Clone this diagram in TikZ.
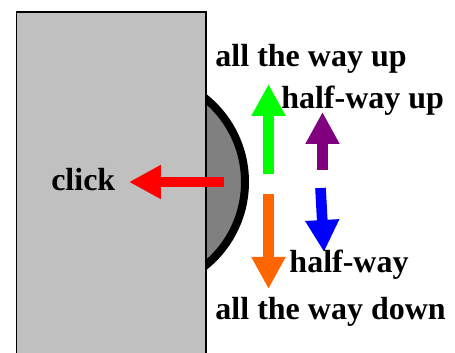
\documentclass[tikz,border=0pt]{standalone}
\usepackage{fontspec}
\setmainfont{Liberation Serif}
\usetikzlibrary{arrows.meta}
\definecolor{silverbox}{RGB}{192,192,192}
\definecolor{knobgray}{RGB}{128,128,128}
\definecolor{dragorange}{RGB}{255,102,0}
\definecolor{halfpurple}{RGB}{128,0,128}
\tikzset{
  lbl/.style={anchor=base west,inner sep=0pt,font=\fontsize{24}{24}\selectfont\bfseries},
  fat/.style={line width=8pt,-{Triangle[length=24pt,width=24pt]}}
}

\begin{document}
\begin{tikzpicture}[x=.75pt,y=-.75pt]
    \useasboundingbox (0,0) rectangle (455,353);
    % Draw the knob and the panel on top of it
    \draw[line width=6pt,fill=knobgray] (137,182) circle (108);
    \draw[line width=1.2pt,fill=silverbox] (16.7,12) rectangle (206,365);
    % Points for the arrows
    \coordinate (clickfrom) at (224,182);
    \coordinate (clickto) at (129,182);
    \coordinate (upfrom) at (268.5,174);
    \coordinate (upto) at (268.5,84);
    \coordinate (halfupfrom) at (322.5,170);
    \coordinate (halfupto) at (322.5,112);
    \coordinate (halfdownfrom) at (320.5,188);
    \coordinate (halfdownto) at (324,252);
    \coordinate (downfrom) at (268.5,194);
    \coordinate (downto) at (268.5,289);
    % Draw the arrows
    \draw[fat,red] (clickfrom) -- (clickto);
    \draw[fat,green] (upfrom) -- (upto);
    \draw[fat,halfpurple] (halfupfrom) -- (halfupto);
    \draw[fat,blue] (halfdownfrom) -- (halfdownto);
    \draw[fat,dragorange] (downfrom) -- (downto);
    % Labels
    \node[lbl] (click) at (51,190.5) {click};
    \node[lbl] (allup) at (215.2,66.7) {all the way up};
    \node[lbl] (halfup) at (281,108.4) {half-way up};
    \node[lbl] (halfdown) at (289.2,273) {half-way};
    \node[lbl] (alldown) at (215.2,320) {all the way down};
\end{tikzpicture}
\end{document}
